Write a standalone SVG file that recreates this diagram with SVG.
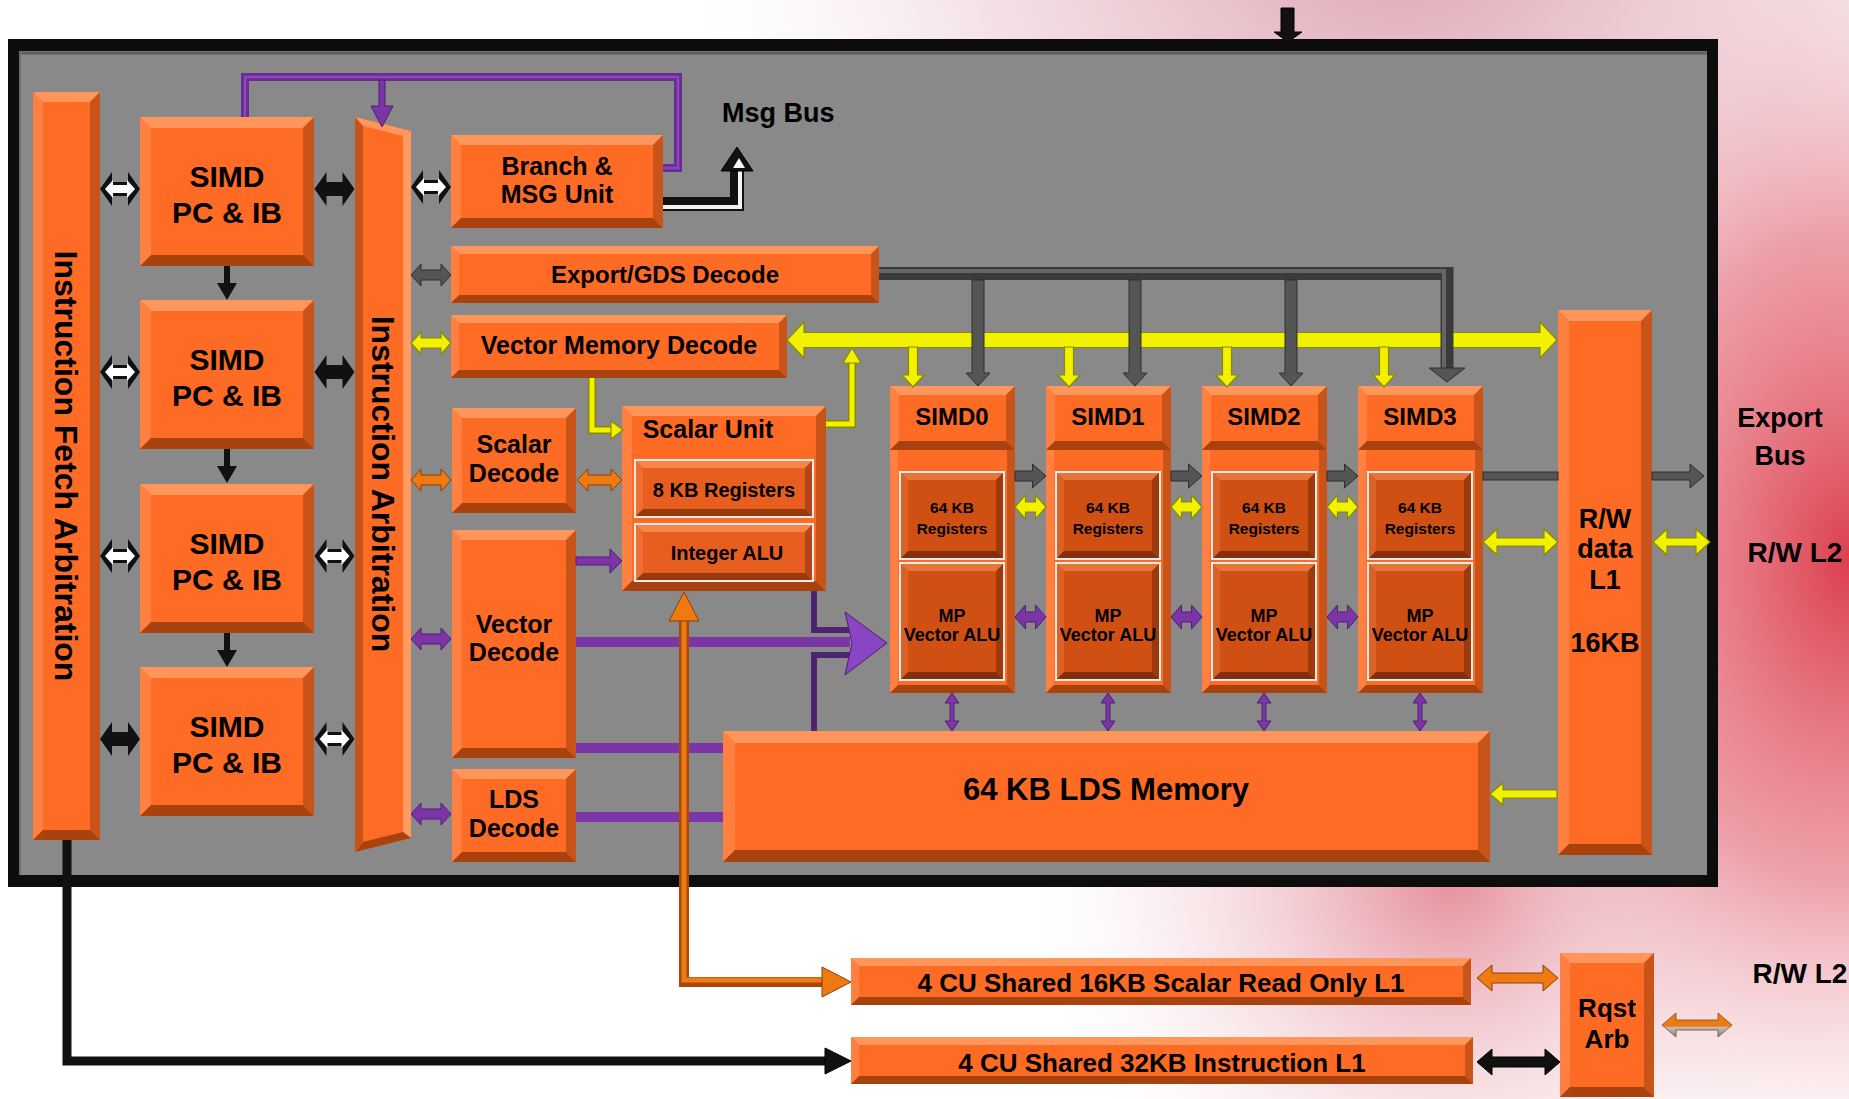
<svg xmlns="http://www.w3.org/2000/svg" xmlns:xlink="http://www.w3.org/1999/xlink" width="1849" height="1099" viewBox="0 0 1849 1099">
<style>
.f{fill:#FD6B25}.bt{fill:#FF965C}.bl{fill:#FF8040}.br{fill:#C95419}.bb{fill:#A8420F}
.df{fill:#D05014}.dt{fill:#E8743A}.dl{fill:#DC6127}.dr{fill:#9C3A0C}.db{fill:#83300A}
.sf{fill:#E85E1E}.st{fill:#F98447}.sl{fill:#EE6F30}.sr{fill:#B2461A}.sb{fill:#953A0E}
.wf{fill:#ECECEC}
text{font-family:"Liberation Sans",Arial,Helvetica,sans-serif;font-weight:bold;fill:#000;text-anchor:middle}
.ylw{fill:#F2F200;stroke:#8A8A00;stroke-width:1.2}
.pur{fill:#7B35A6;stroke:#4E1E6E;stroke-width:1}
.gry{fill:#555;stroke:#2E2E2E;stroke-width:1}
.org{fill:#F07A12;stroke:#8A3E05;stroke-width:1}
.blk{fill:#111;stroke:#000;stroke-width:1}
</style>
<defs>
<radialGradient id="glowR" gradientUnits="userSpaceOnUse" cx="1850" cy="560" r="430" gradientTransform="translate(1850,560) scale(1,1.5) translate(-1850,-560)">
<stop offset="0" stop-color="#D82A3C" stop-opacity="0.9"/>
<stop offset="0.5" stop-color="#E46674" stop-opacity="0.6"/>
<stop offset="1" stop-color="#F2D0D6" stop-opacity="0"/>
</radialGradient>
<radialGradient id="glowT" gradientUnits="userSpaceOnUse" cx="1400" cy="-120" r="720">
<stop offset="0" stop-color="#D995A5" stop-opacity="0.95"/>
<stop offset="0.6" stop-color="#E8C2CB" stop-opacity="0.5"/>
<stop offset="1" stop-color="#F5E4E8" stop-opacity="0"/>
</radialGradient>
<radialGradient id="glowB" gradientUnits="userSpaceOnUse" cx="1450" cy="870" r="420">
<stop offset="0" stop-color="#DF6F7E" stop-opacity="0.8"/>
<stop offset="0.5" stop-color="#EBB3BC" stop-opacity="0.45"/>
<stop offset="1" stop-color="#F5E0E4" stop-opacity="0"/>
</radialGradient>
<linearGradient id="ow" x1="0" y1="0" x2="0" y2="1">
<stop offset="0" stop-color="#F07A12"/>
<stop offset="0.55" stop-color="#F07A12"/>
<stop offset="0.6" stop-color="#BDBDBD"/>
<stop offset="1" stop-color="#8A8A8A"/>
</linearGradient>
<path id="dblBig" d="M-20,0 L-8,-17 L-8,-7 L8,-7 L8,-17 L20,0 L8,17 L8,7 L-8,7 L-8,17 Z"/>
<path id="dblBigIn" d="M-15,0 L-7,-9 L-7,-4 L7,-4 L7,-9 L15,0 L7,9 L7,4 L-7,4 L-7,9 Z"/>
<path id="dblSm" d="M-20,0 L-10,-11 L-10,-5 L10,-5 L10,-11 L20,0 L10,11 L10,5 L-10,5 L-10,11 Z"/>
<path id="dblTiny" d="M-15.5,0 L-5,-12 L-5,-5 L5,-5 L5,-12 L15.5,0 L5,12 L5,5 L-5,5 L-5,12 Z"/>
<path id="rArrow" d="M-15.5,-5 L2,-5 L2,-12 L15.5,0 L2,12 L2,5 L-15.5,5 Z"/>
<path id="vDbl" d="M0,-19 L-7,-9 L-2,-9 L-2,9 L-7,9 L0,19 L7,9 L2,9 L2,-9 L7,-9 Z"/>
<path id="yDrop" d="M-4.5,-20 L4.5,-20 L4.5,8 L11,8 L0,20 L-11,8 L-4.5,8 Z"/>
<path id="gDrop" d="M-6,-53 L6,-53 L6,40 L12,40 L0,53 L-12,40 L-6,40 Z"/>
<path id="dDown" d="M-3,-17 L3,-17 L3,0 L10,0 L0,17 L-10,0 L-3,0 Z"/>
<g id="pcShape">
<rect class="f" x="140" y="0" width="174" height="149"/>
<polygon class="bt" points="140,0 314,0 303,11 151,11"/>
<polygon class="bl" points="140,0 151,11 151,138 140,149"/>
<polygon class="br" points="314,0 314,149 303,138 303,11"/>
<polygon class="bb" points="140,149 314,149 303,138 151,138"/>
</g>
<g id="simdShape">
<rect class="f" x="0" y="386" width="125" height="307"/>
<polygon class="bt" points="0,386 125,386 117,394 8,394"/>
<polygon class="bl" points="0,386 8,394 8,685 0,693"/>
<polygon class="br" points="125,386 125,693 117,685 117,394"/>
<polygon class="bb" points="0,693 125,693 117,685 8,685"/>
<rect class="f" x="0" y="386" width="125" height="64"/>
<polygon class="bt" points="0,386 125,386 116,395 9,395"/>
<polygon class="bl" points="0,386 9,395 9,441 0,450"/>
<polygon class="br" points="125,386 125,450 116,441 116,395"/>
<polygon class="bb" points="0,450 125,450 116,441 9,441"/>
<rect class="wf" x="9" y="471" width="106" height="89"/>
<rect class="df" x="11" y="473" width="102" height="85"/>
<polygon class="dt" points="11,473 113,473 106,480 18,480"/>
<polygon class="dl" points="11,473 18,480 18,551 11,558"/>
<polygon class="dr" points="113,473 113,558 106,551 106,480"/>
<polygon class="db" points="11,558 113,558 106,551 18,551"/>
<rect class="wf" x="9" y="562" width="106" height="119"/>
<rect class="df" x="11" y="564" width="102" height="115"/>
<polygon class="dt" points="11,564 113,564 106,571 18,571"/>
<polygon class="dl" points="11,564 18,571 18,672 11,679"/>
<polygon class="dr" points="113,564 113,679 106,672 106,571"/>
<polygon class="db" points="11,679 113,679 106,672 18,672"/>
</g>
</defs>

<g id="background">
<rect x="0" y="0" width="1849" height="1099" fill="#FFFFFF"/>
<rect x="0" y="0" width="1849" height="1099" fill="url(#glowT)"/>
<rect x="0" y="0" width="1849" height="1099" fill="url(#glowB)"/>
<rect x="0" y="0" width="1849" height="1099" fill="url(#glowR)"/>
</g>

<g id="cu-frame">
<rect x="8" y="39" width="1710" height="848" fill="#0D0D0D"/>
<rect x="19" y="51" width="1688" height="824" fill="#898989"/>
<path d="M19,53 H1707" stroke="#5E5E5E" stroke-width="3" fill="none"/>
<path d="M20,51 V875" stroke="#6E6E6E" stroke-width="2" fill="none"/>
</g>

<g id="fetch-arbitration">
<rect class="f" x="33" y="92" width="67" height="748"/>
<polygon class="bt" points="33,92 100,92 90,102 43,102"/>
<polygon class="bl" points="33,92 43,102 43,830 33,840"/>
<polygon class="br" points="100,92 100,840 90,830 90,102"/>
<polygon class="bb" points="33,840 100,840 90,830 43,830"/>
<text transform="translate(66,466) rotate(90)" y="11.5" font-size="32">Instruction Fetch Arbitration</text>
</g>

<g id="simd-pc-ib-1"><use href="#pcShape" y="117"/><text x="227" y="187" font-size="30">SIMD</text><text x="227" y="223" font-size="30">PC &amp; IB</text></g>
<g id="simd-pc-ib-2"><use href="#pcShape" y="300"/><text x="227" y="370" font-size="30">SIMD</text><text x="227" y="406" font-size="30">PC &amp; IB</text></g>
<g id="simd-pc-ib-3"><use href="#pcShape" y="484"/><text x="227" y="554" font-size="30">SIMD</text><text x="227" y="590" font-size="30">PC &amp; IB</text></g>
<g id="simd-pc-ib-4"><use href="#pcShape" y="667"/><text x="227" y="737" font-size="30">SIMD</text><text x="227" y="773" font-size="30">PC &amp; IB</text></g>

<g id="instruction-arbitration">
<polygon class="f" points="355,117 411,131 411,838 355,852"/>
<polygon class="bt" points="355,117 411,131 403,136 363,126"/>
<polygon fill="#FF9A60" points="411,131 411,838 403,832 403,136"/>
<polygon class="bb" points="355,852 411,838 403,832 363,842"/>
<polygon class="br" points="355,117 363,126 363,842 355,852"/>
<text transform="translate(383,484) rotate(90)" y="11.5" font-size="32">Instruction Arbitration</text>
</g>

<g id="branch-msg-unit">
<rect class="f" x="451" y="135" width="212" height="93"/>
<polygon class="bt" points="451,135 663,135 653,145 461,145"/>
<polygon class="bl" points="451,135 461,145 461,218 451,228"/>
<polygon class="br" points="663,135 663,228 653,218 653,145"/>
<polygon class="bb" points="451,228 663,228 653,218 461,218"/>
<text x="557" y="175" font-size="25">Branch &amp;</text>
<text x="557" y="203" font-size="25">MSG Unit</text>
</g>

<g id="export-gds-decode">
<rect class="f" x="451" y="246" width="428" height="57"/>
<polygon class="bt" points="451,246 879,246 871,254 459,254"/>
<polygon class="bl" points="451,246 459,254 459,295 451,303"/>
<polygon class="br" points="879,246 879,303 871,295 871,254"/>
<polygon class="bb" points="451,303 879,303 871,295 459,295"/>
<text x="665" y="283" font-size="24">Export/GDS Decode</text>
</g>

<g id="vector-memory-decode">
<rect class="f" x="451" y="315" width="336" height="63"/>
<polygon class="bt" points="451,315 787,315 779,323 459,323"/>
<polygon class="bl" points="451,315 459,323 459,370 451,378"/>
<polygon class="br" points="787,315 787,378 779,370 779,323"/>
<polygon class="bb" points="451,378 787,378 779,370 459,370"/>
<text x="619" y="354" font-size="25">Vector Memory Decode</text>
</g>

<g id="scalar-decode">
<rect class="f" x="452" y="408" width="124" height="105"/>
<polygon class="bt" points="452,408 576,408 566,418 462,418"/>
<polygon class="bl" points="452,408 462,418 462,503 452,513"/>
<polygon class="br" points="576,408 576,513 566,503 566,418"/>
<polygon class="bb" points="452,513 576,513 566,503 462,503"/>
<text x="514" y="453" font-size="25">Scalar</text>
<text x="514" y="482" font-size="25">Decode</text>
</g>

<g id="vector-decode">
<rect class="f" x="452" y="530" width="124" height="228"/>
<polygon class="bt" points="452,530 576,530 566,540 462,540"/>
<polygon class="bl" points="452,530 462,540 462,748 452,758"/>
<polygon class="br" points="576,530 576,758 566,748 566,540"/>
<polygon class="bb" points="452,758 576,758 566,748 462,748"/>
<text x="514" y="633" font-size="25">Vector</text>
<text x="514" y="661" font-size="25">Decode</text>
</g>

<g id="lds-decode">
<rect class="f" x="452" y="769" width="124" height="93"/>
<polygon class="bt" points="452,769 576,769 566,779 462,779"/>
<polygon class="bl" points="452,769 462,779 462,852 452,862"/>
<polygon class="br" points="576,769 576,862 566,852 566,779"/>
<polygon class="bb" points="452,862 576,862 566,852 462,852"/>
<text x="514" y="808" font-size="25">LDS</text>
<text x="514" y="837" font-size="25">Decode</text>
</g>

<g id="scalar-unit">
<rect class="f" x="622" y="406" width="204" height="185"/>
<polygon class="bt" points="622,406 826,406 816,416 632,416"/>
<polygon class="bl" points="622,406 632,416 632,581 622,591"/>
<polygon class="br" points="826,406 826,591 816,581 816,416"/>
<polygon class="bb" points="622,591 826,591 816,581 632,581"/>
<text x="708" y="438" font-size="25">Scalar Unit</text>
<rect class="wf" x="634" y="459" width="180" height="59"/>
<rect class="sf" x="636" y="461" width="176" height="55"/>
<polygon class="st" points="636,461 812,461 805,468 643,468"/>
<polygon class="sl" points="636,461 643,468 643,509 636,516"/>
<polygon class="sr" points="812,461 812,516 805,509 805,468"/>
<polygon class="sb" points="636,516 812,516 805,509 643,509"/>
<text x="724" y="497" font-size="20">8 KB Registers</text>
<rect class="wf" x="634" y="523" width="180" height="59"/>
<rect class="sf" x="636" y="525" width="176" height="55"/>
<polygon class="st" points="636,525 812,525 805,532 643,532"/>
<polygon class="sl" points="636,525 643,532 643,573 636,580"/>
<polygon class="sr" points="812,525 812,580 805,573 805,532"/>
<polygon class="sb" points="636,580 812,580 805,573 643,573"/>
<text x="727" y="560" font-size="20">Integer ALU</text>
</g>

<g id="simd0"><use href="#simdShape" x="890"/>
<text x="952" y="425" font-size="24">SIMD0</text>
<text x="952" y="513" font-size="15.5">64 KB</text><text x="952" y="534" font-size="15.5">Registers</text>
<text x="952" y="622" font-size="18">MP</text><text x="952" y="641" font-size="18">Vector ALU</text></g>
<g id="simd1"><use href="#simdShape" x="1046"/>
<text x="1108" y="425" font-size="24">SIMD1</text>
<text x="1108" y="513" font-size="15.5">64 KB</text><text x="1108" y="534" font-size="15.5">Registers</text>
<text x="1108" y="622" font-size="18">MP</text><text x="1108" y="641" font-size="18">Vector ALU</text></g>
<g id="simd2"><use href="#simdShape" x="1202"/>
<text x="1264" y="425" font-size="24">SIMD2</text>
<text x="1264" y="513" font-size="15.5">64 KB</text><text x="1264" y="534" font-size="15.5">Registers</text>
<text x="1264" y="622" font-size="18">MP</text><text x="1264" y="641" font-size="18">Vector ALU</text></g>
<g id="simd3"><use href="#simdShape" x="1358"/>
<text x="1420" y="425" font-size="24">SIMD3</text>
<text x="1420" y="513" font-size="15.5">64 KB</text><text x="1420" y="534" font-size="15.5">Registers</text>
<text x="1420" y="622" font-size="18">MP</text><text x="1420" y="641" font-size="18">Vector ALU</text></g>

<g id="rw-data-l1">
<rect class="f" x="1558" y="310" width="94" height="545"/>
<polygon class="bt" points="1558,310 1652,310 1641,321 1569,321"/>
<polygon class="bl" points="1558,310 1569,321 1569,844 1558,855"/>
<polygon class="br" points="1652,310 1652,855 1641,844 1641,321"/>
<polygon class="bb" points="1558,855 1652,855 1641,844 1569,844"/>
<text x="1605" y="528" font-size="27">R/W</text>
<text x="1605" y="558" font-size="27">data</text>
<text x="1605" y="589" font-size="27">L1</text>
<text x="1605" y="652" font-size="27">16KB</text>
</g>

<g id="lds-memory">
<rect class="f" x="723" y="731" width="767" height="131"/>
<polygon class="bt" points="723,731 1490,731 1478,743 735,743"/>
<polygon class="bl" points="723,731 735,743 735,850 723,862"/>
<polygon class="br" points="1490,731 1490,862 1478,850 1478,743"/>
<polygon class="bb" points="723,862 1490,862 1478,850 735,850"/>
<text x="1106" y="800" font-size="31">64 KB LDS Memory</text>
</g>

<g id="scalar-l1">
<rect class="f" x="851" y="958" width="620" height="47"/>
<polygon class="bt" points="851,958 1471,958 1463,966 859,966"/>
<polygon class="bl" points="851,958 859,966 859,997 851,1005"/>
<polygon class="br" points="1471,958 1471,1005 1463,997 1463,966"/>
<polygon class="bb" points="851,1005 1471,1005 1463,997 859,997"/>
<text x="1161" y="992" font-size="26">4 CU Shared 16KB Scalar Read Only L1</text>
</g>

<g id="instruction-l1">
<rect class="f" x="851" y="1037" width="622" height="47"/>
<polygon class="bt" points="851,1037 1473,1037 1465,1045 859,1045"/>
<polygon class="bl" points="851,1037 859,1045 859,1076 851,1084"/>
<polygon class="br" points="1473,1037 1473,1084 1465,1076 1465,1045"/>
<polygon class="bb" points="851,1084 1473,1084 1465,1076 859,1076"/>
<text x="1162" y="1072" font-size="26">4 CU Shared 32KB Instruction L1</text>
</g>

<g id="rqst-arb">
<rect class="f" x="1560" y="953" width="94" height="144"/>
<polygon class="bt" points="1560,953 1654,953 1644,963 1570,963"/>
<polygon class="bl" points="1560,953 1570,963 1570,1087 1560,1097"/>
<polygon class="br" points="1654,953 1654,1097 1644,1087 1644,963"/>
<polygon class="bb" points="1560,1097 1654,1097 1644,1087 1570,1087"/>
<text x="1607" y="1017" font-size="26">Rqst</text>
<text x="1607" y="1048" font-size="26">Arb</text>
</g>

<g id="connectors">
<polygon class="blk" points="1281,8 1294,8 1294,32 1302,32 1288,42 1274,32 1281,32"/>
<path d="M245,117 V77 H678 V168 H663" fill="none" stroke="#6A2C94" stroke-width="8"/>
<path d="M245,117 V77 H678 V168 H663" fill="none" stroke="#8A48BC" stroke-width="2.5"/>
<polygon class="pur" points="379,80 385,80 385,106 393,106 382,127 371,106 379,106"/>
<path d="M663,204 H737 V170" fill="none" stroke="#111" stroke-width="14"/>
<path d="M663,207 H740 V170" fill="none" stroke="#F4F4F4" stroke-width="4"/>
<polygon class="blk" points="721,171 753,171 737,147"/>
<polygon fill="#F4F4F4" points="733,168 745,168 739,158"/>
<use href="#dDown" x="227" y="283" fill="#111"/>
<use href="#dDown" x="227" y="466" fill="#111"/>
<use href="#dDown" x="227" y="650" fill="#111"/>
<use href="#dblBig" x="120" y="189" fill="#111"/><use href="#dblBigIn" x="120" y="189" fill="#FFF"/>
<use href="#dblBig" x="120" y="372" fill="#111"/><use href="#dblBigIn" x="120" y="372" fill="#FFF"/>
<use href="#dblBig" x="120" y="556" fill="#111"/><use href="#dblBigIn" x="120" y="556" fill="#FFF"/>
<use href="#dblBig" x="120" y="739" fill="#111"/>
<use href="#dblBig" x="334.5" y="189" fill="#111"/>
<use href="#dblBig" x="334.5" y="372" fill="#111"/>
<use href="#dblBig" x="334.5" y="556" fill="#111"/><use href="#dblBigIn" x="334.5" y="556" fill="#FFF"/>
<use href="#dblBig" x="334.5" y="739" fill="#111"/><use href="#dblBigIn" x="334.5" y="739" fill="#FFF"/>
<use href="#dblBig" x="431" y="187" fill="#111"/><use href="#dblBigIn" x="431" y="187" fill="#FFF"/>
<use href="#dblSm" x="431" y="275" class="gry"/>
<use href="#dblSm" x="431" y="343" class="ylw"/>
<use href="#dblSm" x="431" y="480" class="org"/>
<use href="#dblSm" x="431" y="639" class="pur"/>
<use href="#dblSm" x="431" y="814" class="pur"/>
<polygon class="org" points="577,480 588,469 588,475 611,475 611,469 622,480 611,491 611,485 588,485 588,491"/>
<polygon class="ylw" points="787,340 804,322 804,332.5 1540,332.5 1540,322 1557,340 1540,358 1540,347.5 804,347.5 804,358"/>
<use href="#yDrop" x="913" y="367" class="ylw"/>
<use href="#yDrop" x="1069" y="367" class="ylw"/>
<use href="#yDrop" x="1227" y="367" class="ylw"/>
<use href="#yDrop" x="1384" y="367" class="ylw"/>
<path d="M592,378 V430 H612" fill="none" stroke="#8A8A00" stroke-width="8"/>
<path d="M592,378 V430 H612" fill="none" stroke="#F2F200" stroke-width="5"/>
<polygon class="ylw" points="611,421 623,430 611,439"/>
<path d="M826,424 H852 V362" fill="none" stroke="#8A8A00" stroke-width="8"/>
<path d="M826,424 H852 V362" fill="none" stroke="#F2F200" stroke-width="5"/>
<polygon class="ylw" points="843,363 861,363 852,348"/>
<path d="M879,273.5 H1447 V369" fill="none" stroke="#3A3A3A" stroke-width="13"/>
<path d="M879,271 H1444 V369" fill="none" stroke="#666" stroke-width="4"/>
<polygon class="gry" points="1429,368 1465,368 1447,382"/>
<use href="#gDrop" x="978" y="333" class="gry"/>
<use href="#gDrop" x="1135" y="333" class="gry"/>
<use href="#gDrop" x="1291" y="333" class="gry"/>
<use href="#rArrow" x="1030.5" y="476" class="gry"/>
<use href="#rArrow" x="1186.5" y="476" class="gry"/>
<use href="#rArrow" x="1342.5" y="476" class="gry"/>
<use href="#dblTiny" x="1030.5" y="507" class="ylw"/>
<use href="#dblTiny" x="1186.5" y="507" class="ylw"/>
<use href="#dblTiny" x="1342.5" y="507" class="ylw"/>
<use href="#dblTiny" x="1030.5" y="617" class="pur"/>
<use href="#dblTiny" x="1186.5" y="617" class="pur"/>
<use href="#dblTiny" x="1342.5" y="617" class="pur"/>
<rect class="gry" x="1483" y="472" width="75" height="8"/>
<polygon class="gry" points="1652,472 1690,472 1690,464 1704,476 1690,488 1690,480 1652,480"/>
<polygon class="ylw" points="1483,542 1497,529 1497,538 1544,538 1544,529 1558,542 1544,555 1544,546 1497,546 1497,555"/>
<polygon class="ylw" points="1653,542 1667,529 1667,538 1696,538 1696,529 1710,542 1696,555 1696,546 1667,546 1667,555"/>
<polygon class="ylw" points="1490,794 1503,783 1503,790 1557,790 1557,798 1503,798 1503,805"/>
<use href="#vDbl" x="952" y="712" class="pur"/>
<use href="#vDbl" x="1108" y="712" class="pur"/>
<use href="#vDbl" x="1264" y="712" class="pur"/>
<use href="#vDbl" x="1420" y="712" class="pur"/>
<polygon class="pur" points="576,557 610,557 610,549 622,561 610,573 610,565 576,565"/>
<path d="M814,591 V630 H850" fill="none" stroke="#4E2470" stroke-width="6"/>
<path d="M814,731 V655 H850" fill="none" stroke="#4E2470" stroke-width="6"/>
<path d="M576,642 H850" fill="none" stroke="#7B35A6" stroke-width="10"/>
<polygon points="845,612 887,643 845,675 852,643" fill="#8A45C4" stroke="#4E1E6E" stroke-width="1"/>
<path d="M576,748 H723" fill="none" stroke="#7B35A6" stroke-width="10"/>
<path d="M576,817 H723" fill="none" stroke="#7B35A6" stroke-width="10"/>
<path d="M684,618 V982 H823" fill="none" stroke="#A8480A" stroke-width="10"/>
<path d="M684,618 V980 H823" fill="none" stroke="#F07A12" stroke-width="5"/>
<polygon class="org" points="669,621 699,621 684,592"/>
<polygon class="org" points="822,967 851,982 822,997"/>
<path d="M67,840 V1061 H826" fill="none" stroke="#111" stroke-width="9"/>
<polygon class="blk" points="825,1048 851,1061 825,1074"/>
<polygon class="org" points="1477,978 1492,965 1492,973 1543,973 1543,965 1558,978 1543,991 1543,983 1492,983 1492,991"/>
<polygon class="blk" points="1477,1062 1492,1049 1492,1057 1545,1057 1545,1049 1560,1062 1545,1075 1545,1067 1492,1067 1492,1075"/>
<polygon points="1662,1025 1676,1013 1676,1020 1718,1020 1718,1013 1732,1025 1718,1037 1718,1030 1676,1030 1676,1037" fill="url(#ow)" stroke="#7A4A20" stroke-width="0.8"/>
</g>

<g id="labels">
<text x="722" y="122" font-size="27" style="text-anchor:start">Msg Bus</text>
<text x="1780" y="427" font-size="27">Export</text>
<text x="1780" y="465" font-size="27">Bus</text>
<text x="1795" y="562" font-size="28">R/W L2</text>
<text x="1800" y="983" font-size="28">R/W L2</text>
</g>
</svg>
